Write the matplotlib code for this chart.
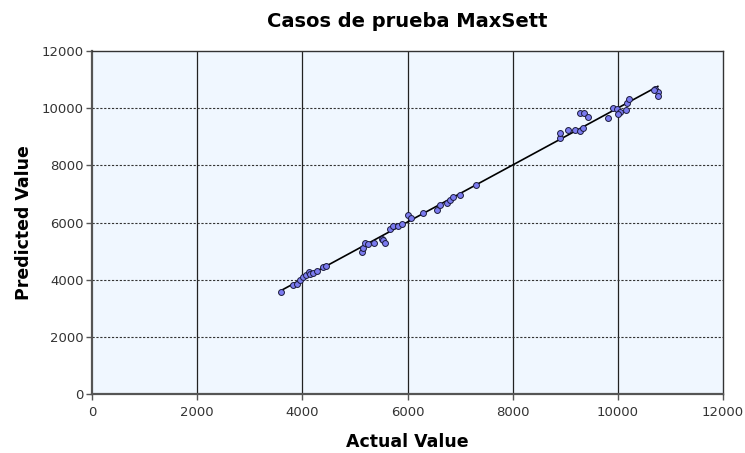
import numpy as np
import matplotlib
matplotlib.use("Agg")
import matplotlib.pyplot as plt

actual = [3600, 3820, 3900, 3960, 4010, 4070, 4120, 4150, 4200, 4280, 4390, 4450,
          5130, 5150, 5190, 5250, 5360, 5510, 5530, 5570, 5670, 5720, 5820, 5900,
          6010, 6070, 6300, 6560, 6620, 6750, 6810, 6870, 7000, 7300,
          8900, 8900, 9050, 9190, 9280, 9340, 9280, 9360, 9430, 9810, 9910, 9990,
          10040, 10000, 10160, 10180, 10210, 10710, 10760, 10760, 10680]
predicted = [3570, 3810, 3850, 3990, 4090, 4160, 4270, 4200, 4230, 4300, 4440, 4480,
             4970, 5100, 5280, 5250, 5280, 5420, 5390, 5280, 5770, 5880, 5880, 5950,
             6260, 6160, 6330, 6440, 6610, 6680, 6790, 6890, 6960, 7310,
             8960, 9130, 9240, 9240, 9200, 9310, 9830, 9830, 9690, 9660, 10010, 9970,
             9870, 9800, 9940, 10180, 10320, 10670, 10570, 10430, 10650]

xticks = [0, 2000, 4000, 6000, 8000, 10000, 12000]
yticks = [0, 2000, 4000, 6000, 8000, 10000, 12000]

fig = plt.figure(figsize=(7.45, 4.53), dpi=100)
ax = fig.add_axes([92/745, 59/453, 631/745, 343/453])
ax.set_facecolor("#F0F7FF")

ax.set_xlim(0, 12000)
ax.set_ylim(0, 12000)
ax.set_xticks(xticks)
ax.set_yticks(yticks)

for xv in xticks[1:-1]:
    ax.axvline(xv, color="#222222", lw=0.9, zorder=1)
for yv in yticks[1:-1]:
    ax.axhline(yv, color="#333333", lw=0.8, ls=(0, (2, 1.5)), zorder=1)

a = np.array(actual, float)
p = np.array(predicted, float)
m, b = np.polyfit(a, p, 1)
xl = np.array([a.min(), a.max()])
ax.plot(xl, m * xl + b, color="black", lw=1.2, zorder=2)
ax.scatter(a, p, s=18, facecolor="#7B7BF0", edgecolor="#1a1a3a", linewidth=0.7, zorder=3)

for s in ["left", "bottom"]:
    ax.spines[s].set_color("#555555")
    ax.spines[s].set_linewidth(1.6)
for s in ["top", "right"]:
    ax.spines[s].set_color("#333333")
    ax.spines[s].set_linewidth(1.0)

ax.tick_params(axis="both", direction="out", length=4, width=1, color="#555555",
               labelsize=9.5, labelcolor="#333333")
ax.tick_params(axis="y", pad=2)
ax.tick_params(axis="x", pad=5)

ax.set_xlabel("Actual Value", fontsize=12.5, fontweight="bold", labelpad=10)
ax.set_ylabel("Predicted Value", fontsize=12.5, fontweight="bold", labelpad=6)
ax.set_title("Casos de prueba MaxSett", fontsize=14, fontweight="bold", pad=17)

fig.savefig("out.png", dpi=100)
